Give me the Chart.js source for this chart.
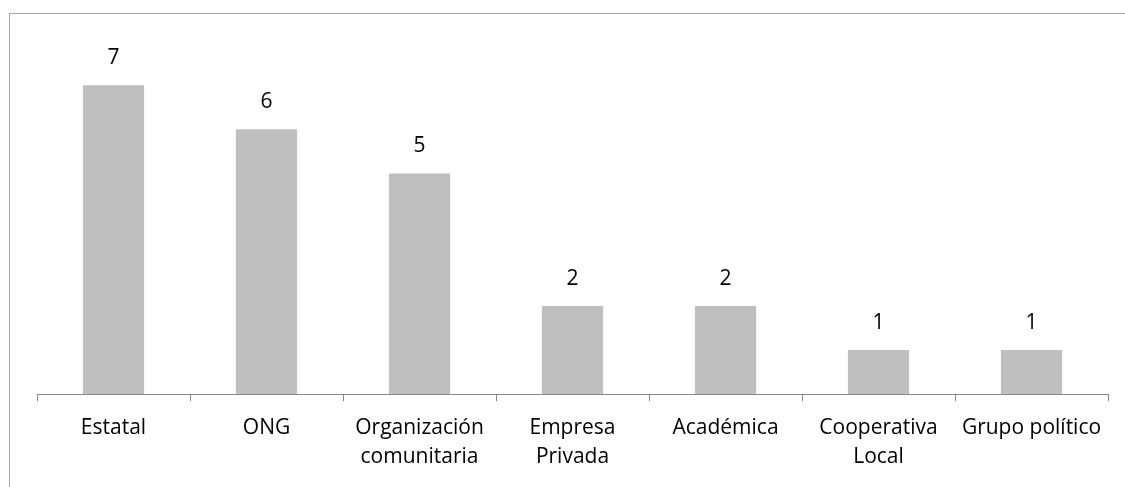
<!DOCTYPE html>
<html>
<head>
<meta charset="utf-8">
<script src="https://cdn.jsdelivr.net/npm/chart.js@4"></script>
<style>
  html, body { margin: 0; padding: 0; background: #fff; overflow: hidden; }
  #wrap { position: relative; width: 1125px; height: 487px; }
  #frame {
    position: absolute; left: 9px; top: 13px; width: 1200px; height: 600px;
    border-left: 1px solid #a6a6a6; border-top: 1px solid #a6a6a6;
  }
  canvas { position: absolute; left: 0; top: 0; }
</style>
</head>
<body>
<div id="wrap">
  <div id="frame"></div>
  <canvas id="chart" width="1125" height="487"></canvas>
</div>
<script>
'use strict';

const categories = [
  'Estatal',
  'ONG',
  ['Organización', 'comunitaria'],
  ['Empresa', 'Privada'],
  'Académica',
  ['Cooperativa', 'Local'],
  'Grupo político',
];
const counts = [7, 6, 5, 2, 2, 1, 1];
const yMax = 8;

const fontFamily = '"Open Sans", sans-serif';

// draws the number above each bar, using the bar element positions
const valueLabels = {
  id: 'valueLabels',
  afterDatasetsDraw(chart) {
    const { ctx } = chart;
    const meta = chart.getDatasetMeta(0);
    ctx.save();
    ctx.font = `21px ${fontFamily}`;
    ctx.fillStyle = '#000';
    ctx.textAlign = 'center';
    ctx.textBaseline = 'middle';
    meta.data.forEach((bar, i) => {
      ctx.fillText(String(counts[i]), bar.x, bar.y - 27);
    });
    ctx.restore();
  },
};

new Chart(document.getElementById('chart'), {
  type: 'bar',
  data: {
    labels: categories,
    datasets: [{
      data: counts,
      backgroundColor: '#bfbfbf',
      borderWidth: 0,
      barPercentage: 0.8,
      categoryPercentage: 0.5,
    }],
  },
  options: {
    responsive: false,
    animation: false,
    layout: { padding: { left: 37, right: 17, top: 41, bottom: 3 } },
    plugins: {
      legend: { display: false },
      tooltip: { enabled: false },
    },
    scales: {
      x: {
        border: { color: '#878787', width: 1 },
        grid: {
          offset: true,
          drawOnChartArea: false,
          drawTicks: true,
          tickLength: 7,
          color: '#878787',
        },
        ticks: {
          color: '#000',
          padding: 12,
          maxRotation: 0,
          autoSkip: false,
          font: { family: fontFamily, size: 21, lineHeight: 1.4 },
        },
      },
      y: {
        display: false,
        min: 0,
        max: yMax,
      },
    },
  },
  plugins: [valueLabels],
});
</script>
</body>
</html>
